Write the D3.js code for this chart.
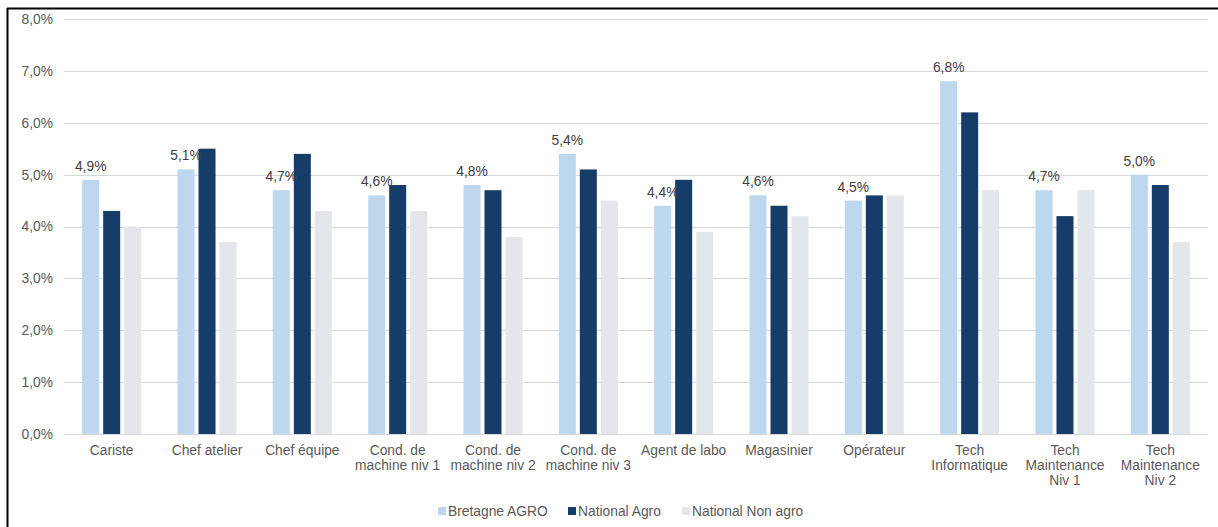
<!DOCTYPE html>
<html>
<head>
<meta charset="utf-8">
<script src="https://cdn.jsdelivr.net/npm/d3@7"></script>
<style>
  html, body { margin: 0; padding: 0; background: #fff; }
  svg { display: block; font-family: "Liberation Sans", Arial, sans-serif; }
</style>
</head>
<body>
<svg id="chart" width="1218" height="527"></svg>
<script>
// Job categories (lines split for the axis labels)
const categories = [
  ["Cariste"],
  ["Chef atelier"],
  ["Chef équipe"],
  ["Cond. de", "machine niv 1"],
  ["Cond. de", "machine niv 2"],
  ["Cond. de", "machine niv 3"],
  ["Agent de labo"],
  ["Magasinier"],
  ["Opérateur"],
  ["Tech", "Informatique"],
  ["Tech", "Maintenance", "Niv 1"],
  ["Tech", "Maintenance", "Niv 2"]
];
const seriesNames = ["Bretagne AGRO", "National Agro", "National Non agro"];
const bretagneAgro   = [4.9, 5.1, 4.7, 4.6, 4.8, 5.4, 4.4, 4.6, 4.5, 6.8, 4.7, 5.0];
const nationalAgro   = [4.3, 5.5, 5.4, 4.8, 4.7, 5.1, 4.9, 4.4, 4.6, 6.2, 4.2, 4.8];
const nationalNonAgro= [4.0, 3.7, 4.3, 4.3, 3.8, 4.5, 3.9, 4.2, 4.6, 4.7, 4.7, 3.7];
const yTicks = [0, 1, 2, 3, 4, 5, 6, 7, 8];
const colors = ["#BDD7EE", "#163D69", "#E3E6EB"];

const seriesValues = [bretagneAgro, nationalAgro, nationalNonAgro];
const keys = categories.map(c => c.join(" "));
const rows = keys.map((k, i) => ({
  key: k,
  lines: categories[i],
  values: seriesNames.map((s, j) => ({ series: s, value: seriesValues[j][i] }))
}));

const svg = d3.select("#chart");
const plotLeft = 64, plotRight = 1208, plotTop = 19, plotBottom = 434;
const fontSize = 13.8;
const fmt = v => d3.format(".1f")(v).replace(".", ",") + "%";

// Frame lines (left and top)
svg.append("line").attr("x1", 7.5).attr("x2", 7.5).attr("y1", 8).attr("y2", 527)
  .attr("stroke", "#000").attr("stroke-width", 2);
svg.append("line").attr("x1", 7).attr("x2", 1218).attr("y1", 8.5).attr("y2", 8.5)
  .attr("stroke", "#000").attr("stroke-width", 2);

const y = d3.scaleLinear().domain([0, 8]).range([plotBottom, plotTop]);
const x0 = d3.scaleBand().domain(keys).range([plotLeft, plotRight]);
const groupW = 59;
const x1 = d3.scaleBand().domain(seriesNames).range([0, groupW]).paddingInner(0.19);

// Gridlines
svg.append("g").selectAll("line").data(yTicks).join("line")
  .attr("x1", plotLeft).attr("x2", plotRight)
  .attr("y1", d => Math.round(y(d)) + 0.5).attr("y2", d => Math.round(y(d)) + 0.5)
  .attr("stroke", "#D9D9D9").attr("stroke-width", 1);

// Y axis labels
const yAxis = d3.axisLeft(y).tickValues(yTicks).tickSize(0).tickPadding(11)
  .tickFormat(fmt);
svg.append("g").attr("transform", `translate(${plotLeft},0)`).call(yAxis)
  .call(g => g.select(".domain").remove())
  .call(g => g.selectAll("text").attr("fill", "#595959").attr("font-size", fontSize)
    .attr("font-family", "Liberation Sans, Arial, sans-serif"));

// Bars
const groups = svg.append("g").selectAll("g").data(rows).join("g")
  .attr("transform", d => `translate(${x0(d.key) + (x0.bandwidth() - groupW) / 2},0)`);
groups.selectAll("rect").data(d => d.values).join("rect")
  .attr("x", d => x1(d.series))
  .attr("width", x1.bandwidth())
  .attr("y", d => y(d.value))
  .attr("height", d => y(0) - y(d.value))
  .attr("fill", (d, i) => colors[i]);

// Value labels on Bretagne AGRO bars
groups.append("text")
  .attr("x", x1(seriesNames[0]) + x1.bandwidth() / 2)
  .attr("y", d => y(d.values[0].value) - 9)
  .attr("text-anchor", "middle")
  .attr("font-size", fontSize).attr("fill", "#404040")
  .text(d => fmt(d.values[0].value));

// X axis line
svg.append("line").attr("x1", plotLeft).attr("x2", plotRight)
  .attr("y1", plotBottom + 0.5).attr("y2", plotBottom + 0.5)
  .attr("stroke", "#D9D9D9");

// Category labels
const xl = svg.append("g").selectAll("text").data(rows).join("text")
  .attr("text-anchor", "middle").attr("font-size", fontSize).attr("fill", "#595959")
  .attr("transform", d => `translate(${x0(d.key) + x0.bandwidth() / 2},${plotBottom + 21})`);
xl.selectAll("tspan").data(d => d.lines).join("tspan")
  .attr("x", 0).attr("dy", (d, i) => i === 0 ? 0 : 15).text(d => d);

// Legend
const legendX = [438, 568, 682];
const legend = svg.append("g").selectAll("g").data(seriesNames).join("g")
  .attr("transform", (d, i) => `translate(${legendX[i]},506)`);
legend.append("rect").attr("width", 8).attr("height", 8).attr("y", 1)
  .attr("fill", (d, i) => colors[i]);
legend.append("text").attr("x", 10).attr("y", 10).attr("font-size", fontSize)
  .attr("fill", "#595959").text(d => d);
</script>
</body>
</html>
